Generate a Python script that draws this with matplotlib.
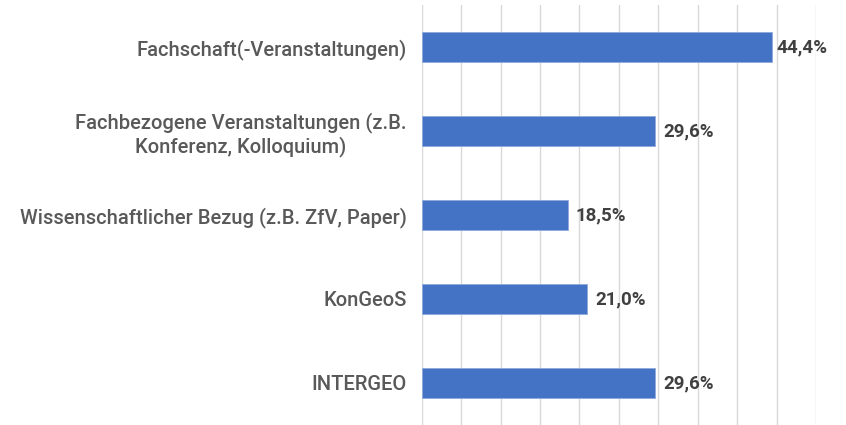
import matplotlib
matplotlib.use("Agg")
import matplotlib.pyplot as plt
from matplotlib.ticker import MultipleLocator

categories = [
    "Fachschaft(-Veranstaltungen)",
    "Fachbezogene Veranstaltungen (z.B.\nKonferenz, Kolloquium)",
    "Wissenschaftlicher Bezug (z.B. ZfV, Paper)",
    "KonGeoS",
    "INTERGEO",
]
values = [44.4, 29.6, 18.5, 21.0, 29.6]
value_labels = ["44,4%", "29,6%", "18,5%", "21,0%", "29,6%"]

plt.rcParams['font.family'] = ['Roboto', 'DejaVu Sans']

fig = plt.figure(figsize=(8.46, 4.25), dpi=100)
ax = fig.add_axes([421.7 / 846, 0.0, (816 - 421.7) / 846, 420 / 425])

y = list(range(len(categories)))
ax.barh(y, values, height=0.356, color="#4472C4", edgecolor="#8FAADC", linewidth=0.6, zorder=3)

offsets = [3, 6, 6, 6, 6]
for yi, v, lab, off in zip(y, values, value_labels, offsets):
    ax.annotate(lab, xy=(v, yi), xytext=(off, 0), textcoords="offset points",
                va="center", ha="left", fontsize=13.5, fontweight="bold", color="#404040")

ax.set_xlim(0, 50)
ax.set_ylim(len(categories) - 0.5, -0.5)
ax.xaxis.set_major_locator(MultipleLocator(5))
ax.grid(axis="x", color="#D9D9D9", linewidth=1.0, zorder=0)
ax.set_xticklabels([])
ax.tick_params(axis="x", length=0)
ax.set_yticks(y)
ax.set_yticklabels(categories, fontsize=14.5, color="#595959", fontweight="medium",
                   ha="right", multialignment="center", linespacing=1.15)
ax.tick_params(axis="y", length=0, pad=11)
for s in ax.spines.values():
    s.set_visible(False)

fig.savefig("out.png", dpi=100)
